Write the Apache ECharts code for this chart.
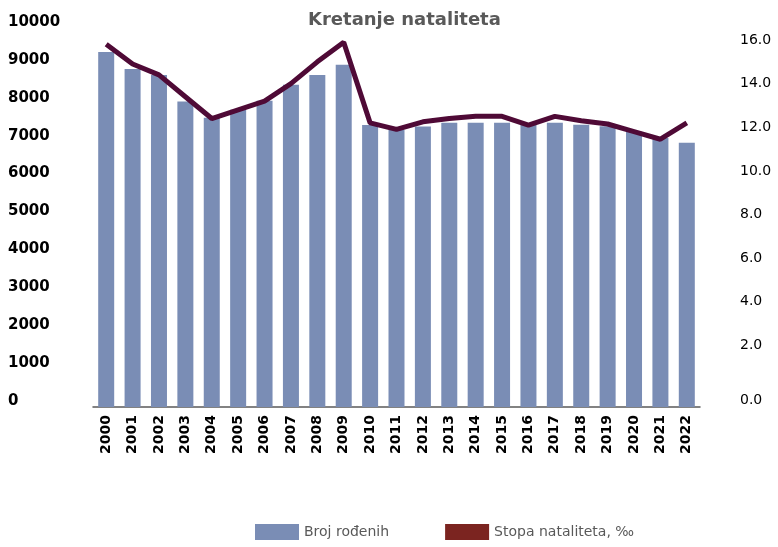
<!DOCTYPE html>
<html>
<head>
<meta charset="utf-8">
<script src="https://cdn.jsdelivr.net/npm/echarts@6/dist/echarts.min.js"></script>
<style>
  html, body { margin: 0; padding: 0; background: #fff; }
  #chart { width: 778px; height: 547px; }
</style>
</head>
<body>
<div id="chart"></div>
<script>
// godine
var years = ['2000', '2001', '2002', '2003', '2004', '2005', '2006', '2007', '2008', '2009', '2010',
  '2011', '2012', '2013', '2014', '2015', '2016', '2017', '2018', '2019', '2020', '2021', '2022'];

// broj rođenih (procjena sa slike)
var births = [9370, 8920, 8760, 8060, 7630, 7840, 8080, 8500, 8760, 9030, 7440,
  7310, 7400, 7500, 7500, 7500, 7440, 7500, 7450, 7410, 7260, 7100, 6970];

// stopa nataliteta, promil
var rate = [15.8, 14.9, 14.4, 13.4, 12.4, 12.8, 13.2, 14.0, 15.0, 15.9, 12.2,
  11.9, 12.25, 12.4, 12.5, 12.5, 12.1, 12.5, 12.3, 12.15, 11.8, 11.45, 12.2];

var leftTicks = [0, 10000, 1000];   // min, max, korak
var rightTicks = [0, 16, 2];

var font = 'DejaVu Sans';

var option = {
  animation: false,
  title: {
    text: 'Kretanje nataliteta',
    left: 303,
    top: 6,
    textStyle: { fontFamily: font, fontSize: 18, fontWeight: 'bold', color: '#595959' }
  },
  legend: {
    bottom: 2,
    left: 250,
    itemWidth: 44,
    itemHeight: 16,
    itemGap: 56,
    icon: 'rect',
    textStyle: { fontFamily: font, fontSize: 14, color: '#595959' },
    data: [
      { name: 'Broj rođenih', itemStyle: { color: '#7A8DB5' } },
      { name: 'Stopa nataliteta, ‰', itemStyle: { color: '#7B2420' } }
    ]
  },
  grid: [
    { left: 93, right: 78, top: 28, bottom: 140, outerBoundsMode: 'none' },
    { left: 93, right: 78, top: 40, bottom: 158, outerBoundsMode: 'none' }
  ],
  xAxis: [
    {
      type: 'category',
      gridIndex: 0,
      data: years,
      axisLine: { lineStyle: { color: '#595959', width: 1.5 } },
      axisTick: { show: false },
      axisLabel: {
        rotate: 90,
        interval: 0,
        margin: 8,
        fontFamily: font,
        fontSize: 14,
        fontWeight: 'bold',
        color: '#000'
      }
    },
    {
      type: 'category',
      gridIndex: 1,
      data: years,
      show: false
    }
  ],
  yAxis: [
    {
      type: 'value',
      gridIndex: 0,
      min: leftTicks[0],
      max: leftTicks[1],
      interval: leftTicks[2],
      splitLine: { show: false },
      axisLine: { show: false },
      axisTick: { show: false },
      axisLabel: {
        margin: 85,
        align: 'left',
        verticalAlign: 'bottom',
        lineHeight: 12,
        fontFamily: font,
        fontSize: 15,
        fontWeight: 'bold',
        color: '#000',
        formatter: function (v) { return String(v); }
      }
    },
    {
      type: 'value',
      gridIndex: 1,
      position: 'right',
      min: rightTicks[0],
      max: rightTicks[1],
      interval: rightTicks[2],
      splitLine: { show: false },
      axisLine: { show: false },
      axisTick: { show: false },
      axisLabel: {
        margin: 40,
        fontFamily: font,
        fontSize: 14,
        color: '#000',
        formatter: function (v) {
          // nula je u originalu spuštena do osnovne linije
          return v === 0 ? '{z|0.0}' : v.toFixed(1);
        },
        rich: {
          z: { fontFamily: font, fontSize: 14, color: '#000', padding: [22, 0, 0, 0] }
        }
      }
    }
  ],
  series: [
    {
      name: 'Broj rođenih',
      type: 'bar',
      xAxisIndex: 0,
      yAxisIndex: 0,
      data: births,
      barWidth: 16,
      itemStyle: { color: '#7A8DB5' }
    },
    {
      name: 'Stopa nataliteta, ‰',
      type: 'line',
      xAxisIndex: 1,
      yAxisIndex: 1,
      data: rate,
      symbol: 'none',
      lineStyle: { color: '#4F0A36', width: 5 },
      itemStyle: { color: '#4F0A36' }
    }
  ]
};

var myChart = echarts.init(document.getElementById('chart'));
myChart.setOption(option);
</script>
</body>
</html>
